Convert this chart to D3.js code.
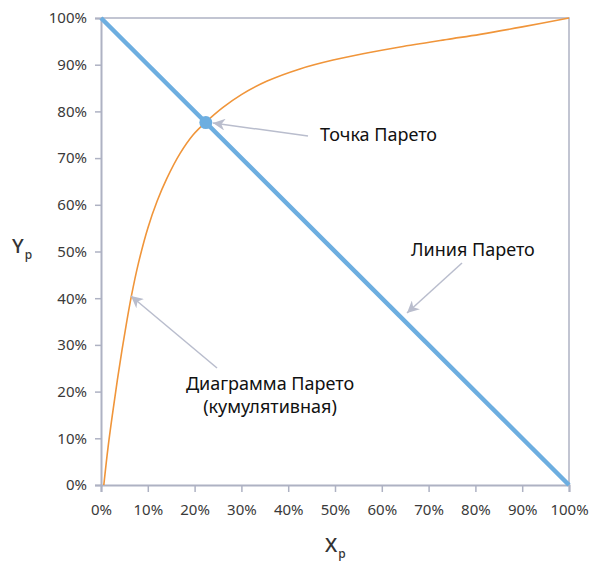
<!DOCTYPE html>
<html>
<head>
<meta charset="utf-8">
<script src="https://cdn.jsdelivr.net/npm/d3@7"></script>
<style>
  body { margin: 0; background: #fff; }
  text { font-family: "Noto Sans", sans-serif; }
</style>
</head>
<body>
<script>
// cumulative Pareto curve (percent)
var curveX = [0.6, 1.5, 2.5, 3.5, 4.5, 5.5, 6.5, 8, 10, 12, 14, 16.9, 19.7, 22.4, 26, 30, 35.5, 42.5, 49.6, 56.8, 63.9, 73.9, 81, 90, 100];
var curveY = [0, 8, 15.5, 22.5, 29, 35, 40.5, 47.5, 55, 60.8, 65.5, 71, 75, 77.7, 80.8, 83.6, 86.5, 89.1, 91.0, 92.5, 93.8, 95.4, 96.5, 98.1, 100];
var lineX = [0, 100];
var lineY = [100, 0];
var paretoPoint = [22.4, 77.6];
var tickValues = [0, 10, 20, 30, 40, 50, 60, 70, 80, 90, 100];

var W = 597, H = 562;
var margin = {top: 18, right: 28, bottom: 77, left: 101};
var w = W - margin.left - margin.right,
    h = H - margin.top - margin.bottom;

var axisColor = "#aeb2c3";

var svg = d3.select("body").append("svg")
  .attr("width", W)
  .attr("height", H);

svg.append("defs").append("marker")
  .attr("id", "arrow")
  .attr("viewBox", "0 0 10 10")
  .attr("refX", 10)
  .attr("refY", 5)
  .attr("markerWidth", 13)
  .attr("markerHeight", 12)
  .attr("markerUnits", "userSpaceOnUse")
  .attr("orient", "auto")
  .append("path")
    .attr("d", "M0,0 L10,5 L0,10 L3,5 Z")
    .attr("fill", "#b9bdcd");

var g = svg.append("g")
  .attr("transform", "translate(" + margin.left + "," + margin.top + ")");

var x = d3.scaleLinear().domain([0, 100]).range([0, w]);
var y = d3.scaleLinear().domain([0, 100]).range([h, 0]);

var fmt = d => d + "%";

var xAxis = g.append("g")
  .attr("transform", "translate(0," + h + ")")
  .call(d3.axisBottom(x).tickValues(tickValues).tickFormat(fmt).tickSize(7).tickPadding(12));
var yAxis = g.append("g")
  .call(d3.axisLeft(y).tickValues(tickValues).tickFormat(fmt).tickSize(6).tickPadding(8));

[xAxis, yAxis].forEach(function(a) {
  a.select(".domain").attr("stroke", axisColor).attr("stroke-width", 2);
  a.selectAll(".tick line").attr("stroke", axisColor).attr("stroke-width", 1.5);
  a.selectAll(".tick text")
    .attr("fill", "#3a3a3a")
    .style("font-size", "15px")
    .style("font-family", "'Noto Sans', sans-serif");
});

// top and right border
g.append("path")
  .attr("d", "M0,0H" + w + "V" + h)
  .attr("fill", "none")
  .attr("stroke", axisColor)
  .attr("stroke-width", 1.5);

var curveData = curveX.map((d, i) => [d, curveY[i]]);
g.append("path")
  .datum(curveData)
  .attr("fill", "none")
  .attr("stroke", "#f0953a")
  .attr("stroke-width", 1.6)
  .attr("d", d3.line().x(d => x(d[0])).y(d => y(d[1])).curve(d3.curveCatmullRom.alpha(0.5)));

g.append("path")
  .datum(lineX.map((d, i) => [d, lineY[i]]))
  .attr("fill", "none")
  .attr("stroke", "#6daee0")
  .attr("stroke-width", 4.5)
  .attr("d", d3.line().x(d => x(d[0])).y(d => y(d[1])));

g.append("circle")
  .attr("cx", x(paretoPoint[0]))
  .attr("cy", y(paretoPoint[1]))
  .attr("r", 6.5)
  .attr("fill", "#6daee0");

// annotations
var notes = [
  {lines: ["Точка Парето"], tx: 320, ty: 141, anchor: "start", from: [308, 136], to: [213, 123]},
  {lines: ["Линия Парето"], tx: 411, ty: 256, anchor: "start", from: [462, 263], to: [407, 313]},
  {lines: ["Диаграмма Парето", "(кумулятивная)"], tx: 270, ty: 390, anchor: "middle", from: [217, 368], to: [131, 296]}
];

notes.forEach(function(n) {
  svg.append("line")
    .attr("x1", n.from[0]).attr("y1", n.from[1])
    .attr("x2", n.to[0]).attr("y2", n.to[1])
    .attr("stroke", "#b9bdcd")
    .attr("stroke-width", 1.5)
    .attr("marker-end", "url(#arrow)");
  var t = svg.append("text")
    .attr("x", n.tx).attr("y", n.ty)
    .attr("text-anchor", n.anchor)
    .attr("fill", "#111")
    .style("font-size", "18px");
  n.lines.forEach(function(l, i) {
    t.append("tspan").attr("x", n.tx).attr("dy", i ? 23 : 0).text(l);
  });
});

// axis titles
function axisTitle(tx, ty, main) {
  var t = svg.append("text")
    .attr("x", tx).attr("y", ty)
    .attr("fill", "#333")
    .style("font-size", "20px")
    .style("font-weight", "500");
  t.append("tspan").text(main);
  t.append("tspan").attr("dy", 6).style("font-size", "12px").attr("dx", 1).text("p");
}
axisTitle(12, 253, "Y");
axisTitle(325, 552, "X");
</script>
</body>
</html>
